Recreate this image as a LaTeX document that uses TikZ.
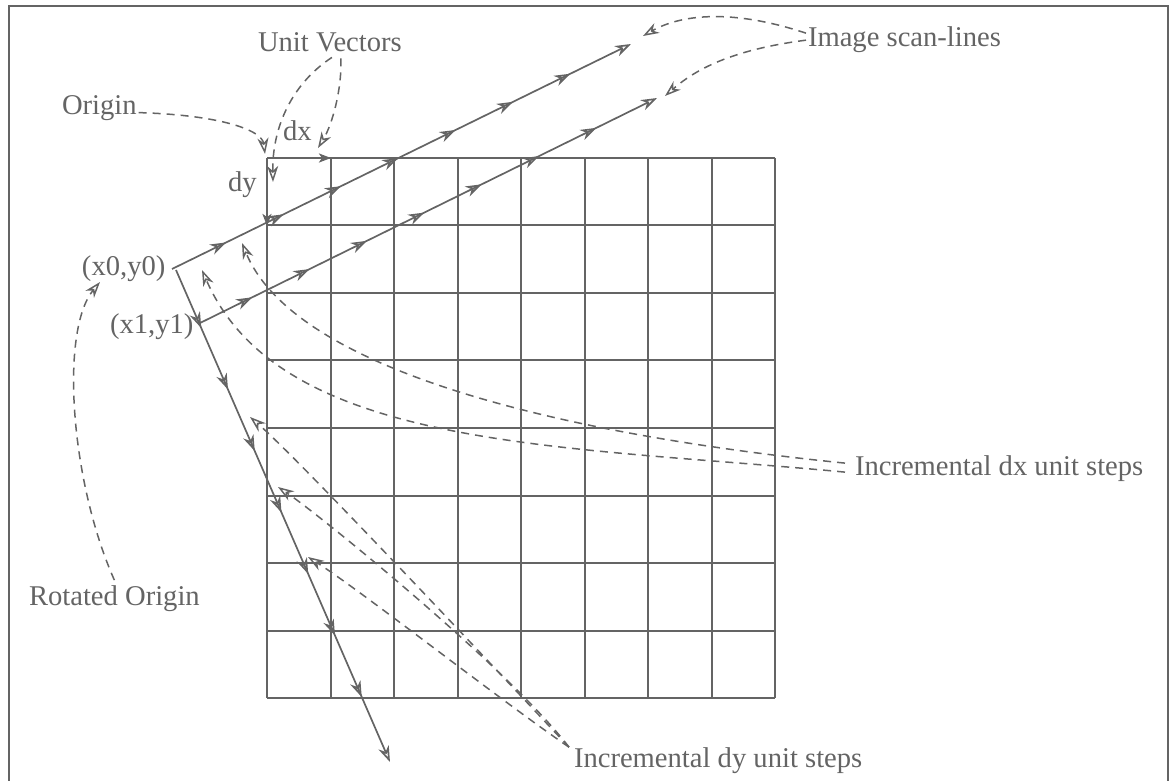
\documentclass[tikz,border=0pt]{standalone}
\usepackage{fontspec}
\setmainfont{Liberation Serif}
\usetikzlibrary{arrows.meta,decorations.markings}
\definecolor{ink}{RGB}{100,100,100}
\begin{document}
\begin{tikzpicture}[x=0.5pt,y=-0.5pt,
  >={Stealth[open,length=8pt,width=5.5pt,inset=2.5pt]},
  every node/.style={inner sep=0pt, outer sep=0pt, text=ink, font=\fontsize{14.3}{17}\selectfont},
  lbl/.style={anchor=base west},
  gridline/.style={draw=ink, line width=1pt},
  framel/.style={draw=ink, line width=1pt},
  scan/.style={draw=ink, line width=0.85pt, ->, postaction={decorate},
    decoration={markings, mark=between positions 0.118 and 0.87 step 0.125 with {\arrow{>}}}},
  dline/.style={draw=ink, line width=0.75pt, dash pattern=on 4pt off 3pt, ->},
  unitvec/.style={draw=ink, line width=1.4pt, -{Stealth[length=6pt,width=4.5pt,inset=1.5pt]}}
]
\useasboundingbox (0,0) rectangle (1175,781);
% frame (bottom edge outside the picture)
\draw[framel] (9,781) -- (9,6) -- (1168,6) -- (1168,781);

% grid
\foreach \i in {0,...,8} {
  \draw[gridline] (267+63.5*\i,158) -- (267+63.5*\i,698);
  \draw[gridline] (267,158+67.5*\i) -- (775,158+67.5*\i);
}

% coordinates
\coordinate (O) at (267,158);
\coordinate (dxend) at (331,158);
\coordinate (dyend) at (267,226);
\coordinate (S1a) at (172,269);
\coordinate (S1b) at (631,44);
\coordinate (Ra) at (176,270);
\coordinate (Rb) at (390,762);
\coordinate (S2a) at (198,324);
\coordinate (S2b) at (657,98);

\coordinate (tO) at (265,154);
\coordinate (tUa) at (273,182);
\coordinate (tUb) at (318,148);
\coordinate (tS1) at (643,36);
\coordinate (tS2) at (665,96);
\coordinate (tX1) at (242,243);
\coordinate (tX2) at (202,270);
\coordinate (tY1) at (250,417);
\coordinate (tY2) at (278,487);
\coordinate (tY3) at (308,557);
\coordinate (tR) at (100,282);

% labels
\node[lbl] (origin) at (62,115) {Origin};
\node[lbl] (unitv) at (258,52) {Unit Vectors};
\node[lbl] (dxl) at (283,141) {dx};
\node[lbl] (dyl) at (228,192) {dy};
\node[lbl] (x0l) at (82,276) {(x0,y0)};
\node[lbl] (x1l) at (110,334) {(x1,y1)};
\node[lbl] (scanl) at (808,47) {Image scan-lines};
\node[lbl] (incdx) at (855,475) {Incremental dx unit steps};
\node[lbl] (incdy) at (574,767) {Incremental dy unit steps};
\node[lbl] (rot) at (29,605) {Rotated Origin};

% unit vectors
\draw[unitvec] (O) -- (dxend);
\draw[unitvec] (O) -- (dyend);

% scan lines and rotated y-line
\draw[scan] (S1a) -- (S1b);
\draw[scan] (S2a) -- (S2b);
\draw[scan] (Ra) -- (Rb);

% dashed annotations
\draw[dline] ([xshift=1pt,yshift=-2pt]origin.east) .. controls (220,115) and (262,130) .. (tO);
\draw[dline] ([xshift=1pt,yshift=-2.5pt]unitv.south) .. controls (290,85) and (272,130) .. (tUa);
\draw[dline] ([xshift=5.5pt,yshift=-3pt]unitv.south) .. controls (342,90) and (332,125) .. (tUb);
\draw[dline] ([xshift=-1pt,yshift=3.5pt]scanl.west) .. controls (730,8) and (680,15) .. (tS1);
\draw[dline] ([xshift=-1pt]scanl.west) .. controls (730,50) and (695,70) .. (tS2);
\draw[dline] ([xshift=-5pt,yshift=2.5pt]incdx.west) .. controls (520,430) and (290,360) .. (tX1);
\draw[dline] ([xshift=-5pt,yshift=-2pt]incdx.west) .. controls (560,445) and (280,450) .. (tX2);
\draw[dline] ([xshift=-2.5pt]incdy.north west) .. controls (520,695) and (300,460) .. (tY1);
\draw[dline] ([xshift=-2.5pt]incdy.north west) .. controls (510,670) and (320,515) .. (tY2);
\draw[dline] ([xshift=-2.5pt]incdy.north west) .. controls (500,700) and (360,590) .. (tY3);
\draw[dline] ([yshift=2.5pt]rot.north) .. controls (70,480) and (60,330) .. (tR);
\end{tikzpicture}
\end{document}
